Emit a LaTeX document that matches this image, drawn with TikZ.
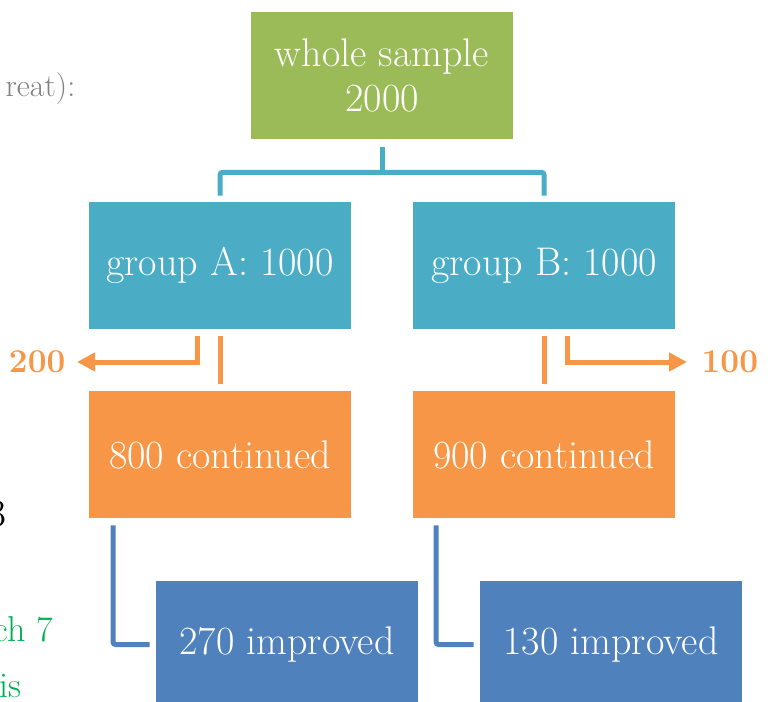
\documentclass[tikz,border=0pt]{standalone}
\usetikzlibrary{calc,arrows.meta}
\definecolor{olivegreen}{HTML}{9BBB59}
\definecolor{aqua}{HTML}{4BACC6}
\definecolor{peach}{HTML}{F79646}
\definecolor{steel}{HTML}{4F81BD}
\definecolor{slidegreen}{HTML}{00B050}
\tikzset{
    box/.style={fill=#1, text=white, minimum width=196.5pt, minimum height=95.25pt,
        inner sep=0pt, align=center, font=\fontsize{30}{34}\selectfont},
    treeline/.style={draw=aqua, line width=3.75pt},
    dropline/.style={draw=peach, line width=3.75pt},
    improveline/.style={draw=steel, line width=3.75pt, rounded corners=2pt},
    outarrow/.style={dropline, -{Triangle[length=13.5pt,width=13.5pt]}},
    lost/.style={text=peach, font=\fontsize{25}{29}\selectfont\bfseries},
}

\begin{document}
\begin{tikzpicture}[x=0.75pt, y=-0.75pt]
            \clip (0,0) rectangle (770,702);
            \useasboundingbox (0,0) rectangle (770,702);

            % boxes
            \node[box=olivegreen] (whole) at (382,75.5) {whole sample\\2000};
            \node[box=aqua] (groupA) at (220,265.5) {group A: 1000};
            \node[box=aqua] (groupB) at (544,265.5) {group B: 1000};
            \node[box=peach] (contA) at (220,454.5) {800 continued};
            \node[box=peach] (contB) at (544,454.5) {900 continued};
            \node[box=steel] (impA) at (287,644.5) {270 improved};
            \node[box=steel] (impB) at (611,644.5) {130 improved};

            % dropped out
            \node[lost, anchor=east] (lostA) at (70,362) {200};
            \node[lost, anchor=west] (lostB) at (697,362) {100};

            % cut-off slide text
            \node[text=gray, font=\fontsize{24}{28}\selectfont, anchor=base east] (txtA) at (80,97) {reat):};
            \node[font=\fontsize{29}{33}\selectfont, anchor=base east] (txtB) at (11,526) {3};
            \node[text=slidegreen, font=\fontsize{27}{31}\selectfont, anchor=base east] (txtC) at (58,641) {ch 7};
            \node[text=slidegreen, font=\fontsize{27}{31}\selectfont, anchor=base east] (txtD) at (26,697) {is};

            % split of the sample
            \draw[treeline] ($(whole.south)+(0,8)$) -- ($(whole.south)+(0,33)$);
            \draw[treeline, rounded corners=2pt] ($(groupA.north)+(0,-6)$) |- ($(whole.south)+(0,33)$) -| ($(groupB.north)+(0,-6)$);

            % continued / dropped
            \draw[dropline] ($(groupA.south)+(0,7)$) -- ($(contA.north)+(0,-7)$);
            \draw[dropline] ($(groupB.south)+(0,7)$) -- ($(contB.north)+(0,-7)$);
            \draw[outarrow] ($(groupA.south)+(-23,7)$) |- ($(lostA.east)+(7,0)$);
            \draw[outarrow] ($(groupB.south)+(23,7)$) |- ($(lostB.west)+(-10,0)$);

            % improved
            \draw[improveline] ($(contA.south)+(-107,7)$) |- ($(impA.west)+(-6,0)$);
            \draw[improveline] ($(contB.south)+(-108,7)$) |- ($(impB.west)+(-6,0)$);
        \end{tikzpicture}
\end{document}
